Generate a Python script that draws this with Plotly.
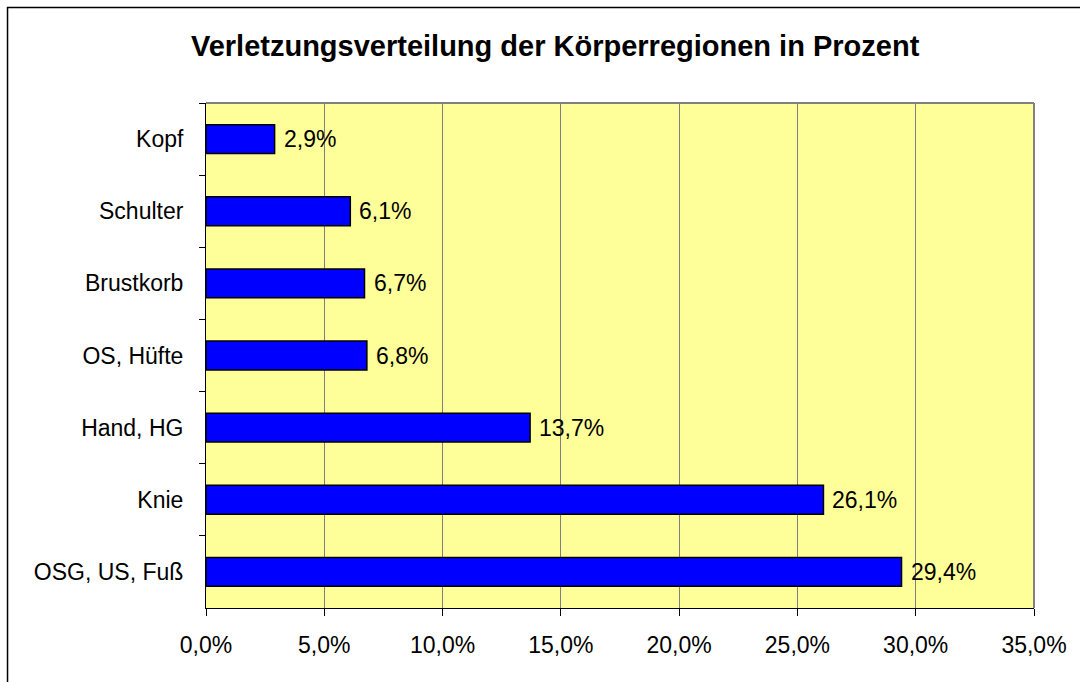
import plotly.graph_objects as go

# Body regions, top to bottom as shown in the chart
regions = ["Kopf", "Schulter", "Brustkorb", "OS, Hüfte", "Hand, HG", "Knie", "OSG, US, Fuß"]
shares = [2.9, 6.1, 6.7, 6.8, 13.7, 26.1, 29.4]  # percent of injuries
x_ticks = [0, 5, 10, 15, 20, 25, 30, 35]


def de_pct(v):
    # German style percent label: 29.4 -> "29,4%"
    return f"{v:.1f}%".replace(".", ",")


FONT = "Liberation Sans, Arial, sans-serif"

fig = go.Figure(go.Bar(
    x=shares,
    y=regions,
    orientation="h",
    marker=dict(color="#0000FF", line=dict(color="black", width=1.5)),
    width=0.4,
    hoverinfo="skip",
))

# value labels right of each bar
for v, r in zip(shares, regions):
    fig.add_annotation(
        x=v, y=r, text=de_pct(v),
        xref="x", yref="y",
        xanchor="left", yanchor="middle",
        xshift=7, showarrow=False,
        font=dict(size=23, color="black", family=FONT),
    )

fig.update_layout(
    width=1080,
    height=682,
    autosize=False,
    paper_bgcolor="white",
    plot_bgcolor="#FFFF99",
    margin=dict(l=206, r=46, t=103, b=74, autoexpand=False),
    showlegend=False,
    font=dict(family=FONT, size=23, color="black"),
    title=dict(
        text="<b>Verletzungsverteilung der Körperregionen in Prozent</b>",
        x=0.514, xanchor="center",
        y=0.9326, yanchor="middle",
        font=dict(size=29, family=FONT, color="black"),
    ),
    xaxis=dict(
        range=[0, 35],
        tickvals=x_ticks,
        ticktext=[de_pct(v) for v in x_ticks],
        automargin=False,
        showgrid=True,
        gridcolor="#808080",
        gridwidth=1,
        showline=True,
        linecolor="black",
        linewidth=1,
        ticks="outside",
        ticklen=7,
        tickcolor="black",
        ticklabelstandoff=9,
        zeroline=False,
        tickfont=dict(size=23),
    ),
    yaxis=dict(
        autorange="reversed",
        automargin=False,
        showline=True,
        linecolor="black",
        linewidth=1,
        ticks="outside",
        tickson="boundaries",
        ticklen=6,
        tickcolor="black",
        ticklabelstandoff=17,
        showgrid=False,
        tickfont=dict(size=23),
    ),
    shapes=[
        # gray frame of the plot area (top and right edges)
        dict(type="line", xref="paper", yref="paper", x0=0, x1=1, y0=1, y1=1,
             line=dict(color="#808080", width=2), layer="above"),
        dict(type="line", xref="paper", yref="paper", x0=1, x1=1, y0=0, y1=1,
             line=dict(color="#808080", width=2), layer="above"),
        # outer chart border, running past the right and bottom edges
        dict(type="rect", xref="paper", yref="paper",
             x0=-0.2397, x1=1.1, y0=-0.3, y1=1.1891,
             line=dict(color="black", width=1.5), fillcolor="rgba(0,0,0,0)",
             layer="below"),
    ],
)

# drop the default page margin so the figure fills the window exactly
fig.write_html(
    "out.html",
    config={"displayModeBar": False},
    post_script="document.body.style.margin='0';document.body.style.overflow='hidden';",
)
